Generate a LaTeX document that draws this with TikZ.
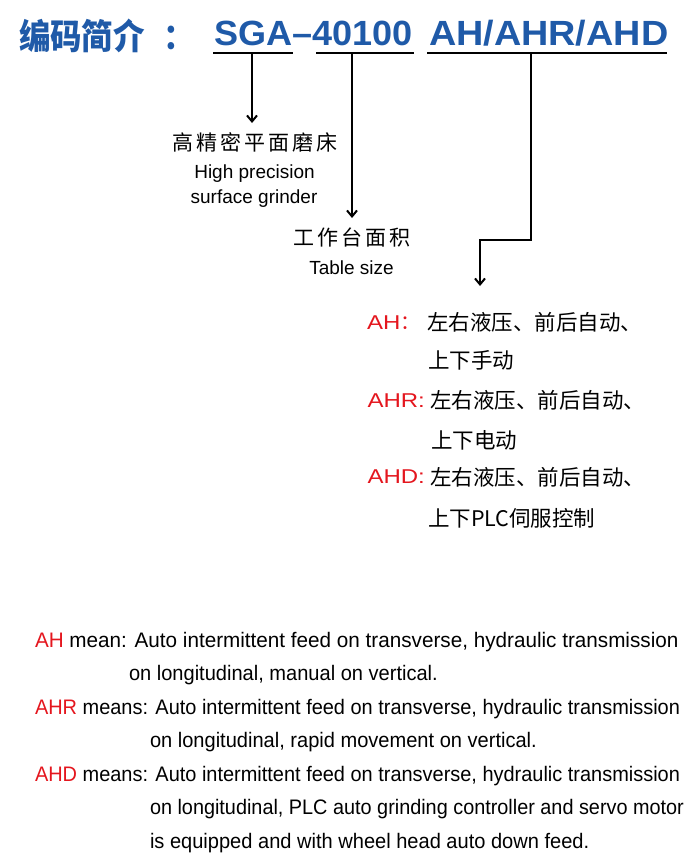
\documentclass[tikz,border=0pt]{standalone}
\usepackage{fontspec}
\usepackage{graphicx}
\setmainfont{Liberation Sans}
\newfontfamily\cjk{Noto Sans CJK SC}
\newfontfamily\cjksp{Noto Sans CJK SC}[LetterSpace=14]
\newfontfamily\cjkmid{Noto Sans CJK SC Medium}
\newfontfamily\cjktitle{Noto Sans CJK SC Black}[FakeStretch=0.9]
\newfontfamily\widefont{Liberation Sans}[FakeStretch=1.2]
\newfontfamily\sgafont{Liberation Sans Bold}[FakeStretch=1.03]
\newfontfamily\ahfont{Liberation Sans Bold}[FakeStretch=1.08]
\usetikzlibrary{arrows.meta}
\definecolor{tblue}{RGB}{31,90,168}
\definecolor{tred}{RGB}{228,22,30}
\newcommand\hsx[2]{\scalebox{#1}[1]{#2}}
\tikzset{
  txt/.style={inner sep=0pt, outer sep=0pt, anchor=base},
  txtw/.style={inner sep=0pt, outer sep=0pt, anchor=base west},
  conn/.style={line width=2pt},
  arr/.style={line width=2pt, -{Straight Barb[length=6pt,width=10pt]}},
  uline/.style={line width=2pt},
}
\begin{document}
\begin{tikzpicture}[x=1pt,y=-1pt]
\useasboundingbox (0,0) rectangle (700,867);
% title
\node[txtw, text=tblue] (title) at (19,49) {\cjktitle\fontsize{35}{35}\selectfont 编码简介};
\node[txtw, text=tblue] (colon) at (163,49) {\cjktitle\fontsize{35}{35}\selectfont ：};
\node[txtw, text=tblue] (sga) at (214,46) {\sgafont\fontsize{35}{35}\selectfont SGA–40100};
\node[txtw, text=tblue] (ah) at (429,46) {\ahfont\fontsize{35}{35}\selectfont AH/AHR/AHD};
% underlines
\coordinate (u1a) at (213,53.3); \coordinate (u1b) at (293,53.3);
\coordinate (u2a) at (316,53.3); \coordinate (u2b) at (414,53.3);
\coordinate (u3a) at (427,53.3); \coordinate (u3b) at (667,53.3);
\draw[uline] (u1a) -- (u1b);
\draw[uline] (u2a) -- (u2b);
\draw[uline] (u3a) -- (u3b);
% descriptions
\node[txt] (m1) at (255,150.5) {\cjksp\fontsize{21}{21}\selectfont 高精密平面磨床};
\node[txt] (m1a) at (254.5,178.3) {\fontsize{19}{19}\selectfont High precision};
\node[txt] (m1b) at (254,203.3) {\fontsize{19}{19}\selectfont surface grinder};
\node[txt] (m2) at (352,245.6) {\cjksp\fontsize{21}{21}\selectfont 工作台面积};
\node[txt] (m2a) at (351.5,274) {\fontsize{19}{19}\selectfont Table size};
% connectors
\coordinate (s1) at (252,53.3); \coordinate (t1) at (252,123);
\coordinate (s2) at (352,53.3); \coordinate (t2) at (352,218);
\coordinate (s3) at (531,53.3); \coordinate (k1) at (531,240);
\coordinate (k2) at (480,240); \coordinate (t3) at (480,286);
\draw[arr] (s1) -- (t1);
\draw[arr] (s2) -- (t2);
\draw[arr] (s3) -- (k1) -- (k2) -- (t3);
% option list
\node[txtw, text=tred] (l1) at (367,329) {\widefont\fontsize{20}{20}\selectfont AH\cjk ：};
\node[txtw] (c1) at (427,330.5) {\cjk\fontsize{21.5}{21.5}\selectfont 左右液压、前后自动、};
\node[txtw] (c2) at (428,368) {\cjk\fontsize{21.5}{21.5}\selectfont 上下手动};
\node[txtw, text=tred] (l2) at (367.5,407.3) {\widefont\fontsize{20}{20}\selectfont AHR:};
\node[txtw] (c3) at (430,408.5) {\cjk\fontsize{21.5}{21.5}\selectfont 左右液压、前后自动、};
\node[txtw] (c4) at (431,448) {\cjk\fontsize{21.5}{21.5}\selectfont 上下电动};
\node[txtw, text=tred] (l3) at (367.5,483.3) {\widefont\fontsize{20}{20}\selectfont AHD:};
\node[txtw] (c5) at (430,485) {\cjk\fontsize{21.5}{21.5}\selectfont 左右液压、前后自动、};
\node[txtw] (c6) at (428,526.5) {\cjk\fontsize{21.5}{21.5}\selectfont 上下PLC伺服控制};
% english notes
\node[txtw] (b1) at (35,647) {\fontsize{21}{21}\selectfont\hsx{0.985}{\textcolor{tred}{AH} mean: Auto intermittent feed on transverse, hydraulic transmission}};
\node[txtw] (b2) at (129,680.5) {\fontsize{21}{21}\selectfont\hsx{0.955}{on longitudinal, manual on vertical.}};
\node[txtw] (b3) at (35,714) {\fontsize{21}{21}\selectfont\hsx{0.95}{\textcolor{tred}{AHR} means: Auto intermittent feed on transverse, hydraulic transmission}};
\node[txtw] (b4) at (150,747.5) {\fontsize{21}{21}\selectfont\hsx{0.955}{on longitudinal, rapid movement on vertical.}};
\node[txtw] (b5) at (35,781) {\fontsize{21}{21}\selectfont\hsx{0.95}{\textcolor{tred}{AHD} means: Auto intermittent feed on transverse, hydraulic transmission}};
\node[txtw] (b6) at (150,814.5) {\fontsize{21}{21}\selectfont\hsx{0.945}{on longitudinal, PLC auto grinding controller and servo motor}};
\node[txtw] (b7) at (150,848) {\fontsize{21}{21}\selectfont\hsx{0.955}{is equipped and with wheel head auto down feed.}};
\end{tikzpicture}
\end{document}
